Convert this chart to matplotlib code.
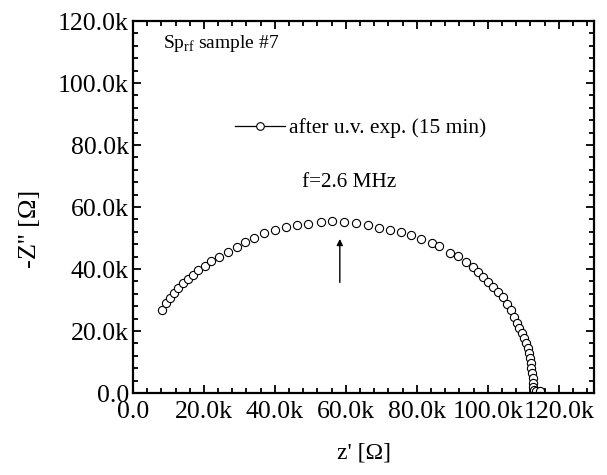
import numpy as np
import matplotlib
matplotlib.use("Agg")
import matplotlib.pyplot as plt
from matplotlib.ticker import MultipleLocator, FuncFormatter

plt.rcParams['font.family'] = ['Liberation Serif', 'DejaVu Serif']
plt.rcParams['mathtext.fontset'] = 'custom'
plt.rcParams['mathtext.rm'] = 'Liberation Serif'

# data, in kOhm
z_re = np.array([8.2, 9.3, 10.4, 11.5, 12.7, 14.1, 15.5, 16.9, 18.3, 20.2, 22.1, 24.2, 26.7,
                 29.3, 31.7, 34.2, 37.0, 40.1, 43.1, 46.1, 49.4, 53.0, 56.1, 59.5, 62.8, 66.2,
                 69.3, 72.4, 75.5, 78.5, 81.1, 84.2, 86.3, 89.4, 91.5, 93.9, 95.9, 97.3, 98.7,
                 100.1, 101.5, 102.9, 104.3, 105.4, 106.4, 107.3, 108.1, 108.8, 109.5, 110.2,
                 110.7, 111.2, 111.6, 111.8, 112.1, 112.3, 112.5, 112.6, 112.7, 112.8, 113.0,
                 113.7, 114.6])
z_im = np.array([26.8, 28.9, 30.5, 32.2, 33.8, 35.4, 36.8, 38.1, 39.7, 41.1, 42.6, 44.0, 45.6,
                 47.2, 48.6, 49.9, 51.5, 52.6, 53.6, 54.3, 54.5, 55.2, 55.5, 55.2, 54.8, 54.2,
                 53.2, 52.6, 51.9, 51.0, 49.7, 48.4, 47.4, 45.3, 44.2, 42.4, 40.7, 39.1, 37.5,
                 35.9, 34.3, 32.7, 30.9, 28.6, 26.8, 24.6, 22.5, 20.9, 19.3, 17.6, 16.0, 14.4,
                 12.8, 11.2, 9.6, 8.0, 6.4, 4.7, 3.1, 1.8, 1.0, 0.8, 0.6])
series_label = "after u.v. exp. (15 min)"
arrow_x = 58.3
arrow_y = (34.8, 50.6)

fig = plt.figure(figsize=(6.07, 4.75), dpi=100)
ax = fig.add_axes([0.219, 0.1726, 0.76, 0.783])

ax.plot(z_re * 1000, z_im * 1000, color='black', marker='o', ms=5.9,
        mfc='white', mec='black', mew=0.8, linestyle='none')

# legend handle shows the line through the circle
h, = ax.plot([], [], color='black', lw=0.9, marker='o', ms=5.5, mfc='white', mec='black', mew=0.8)
ax.legend([h], [series_label], loc='center left', bbox_to_anchor=(0.222, 0.712),
          frameon=False, fontsize=15.5, handlelength=2.3, handletextpad=0.2,
          borderpad=0, borderaxespad=0)

ax.annotate('', xy=(arrow_x * 1000, arrow_y[1] * 1000), xytext=(arrow_x * 1000, arrow_y[0] * 1000),
            arrowprops=dict(arrowstyle='-|>', color='black', lw=1.0, mutation_scale=9))

ax.text(0.065, 0.94, r"Sp$_{\rm rf}$ sample #7", transform=ax.transAxes, fontsize=14,
        va='center', ha='left')
ax.text(0.367, 0.567, "f=2.6 MHz", transform=ax.transAxes, fontsize=15.3, va='center', ha='left')

ax.set_xlim(0, 130000)
ax.set_ylim(0, 120000)

fmt = FuncFormatter(lambda v, p: "0.0" if v == 0 else "%.1fk" % (v / 1000))
ax.xaxis.set_major_locator(MultipleLocator(20000))
ax.xaxis.set_minor_locator(MultipleLocator(4000))
ax.yaxis.set_major_locator(MultipleLocator(20000))
ax.yaxis.set_minor_locator(MultipleLocator(4000))
ax.xaxis.set_major_formatter(fmt)
ax.yaxis.set_major_formatter(fmt)

ax.tick_params(which='both', direction='in', top=True, right=True, labelsize=18.5, width=1.3)
ax.tick_params(which='major', length=6)
ax.tick_params(which='minor', length=3.5)
ax.tick_params(axis='x', pad=6)
ax.tick_params(axis='y', pad=3)
for s in ax.spines.values():
    s.set_linewidth(1.6)

ax.set_xlabel("z' [\u03a9]", fontsize=17, labelpad=14)
ax.set_ylabel("-Z'' [\u03a9]", fontsize=19)
ax.yaxis.set_label_coords(-0.2, 0.44)

fig.savefig("out.png", dpi=100)
